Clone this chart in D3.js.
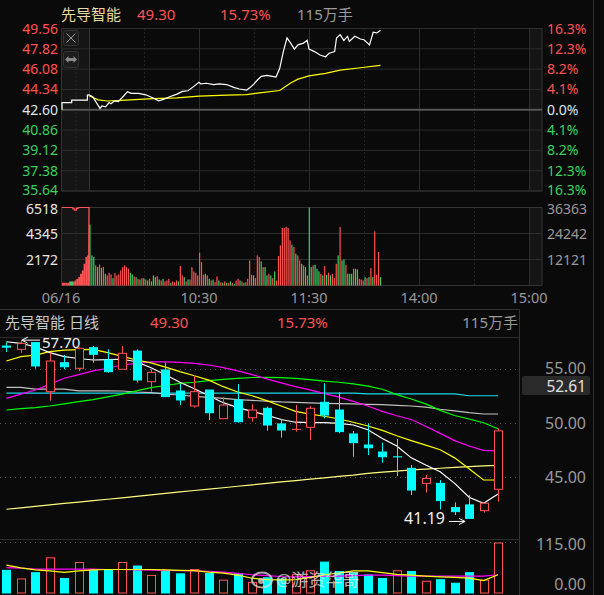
<!DOCTYPE html>
<html>
<head>
<meta charset="utf-8">
<script src="https://cdn.jsdelivr.net/npm/d3@7"></script>
<style>
  body { margin: 0; background: #0a0a0a; }
  svg { display: block; }
  text { font-family: "Noto Sans", "Noto Sans CJK SC", sans-serif; }
</style>
</head>
<body>
<svg id="chart"></svg>
<script>
/* 先导智能: intraday (top) + daily K-line (bottom) */

// ---------- header ----------
const stockName = "先导智能";
const lastPrice = "49.30", changePct = "15.73%", volText = "115万手";
const prevClose = 42.60;

// ---------- intraday axes ----------
const priceTicks = [49.56, 47.82, 46.08, 44.34, 42.60, 40.86, 39.12, 37.38, 35.64];
const pctTicks = ["16.3%", "12.3%", "8.2%", "4.1%", "0.0%", "4.1%", "8.2%", "12.3%", "16.3%"];
const volTicksL = [6518, 4345, 2172];
const volTicksR = [36363, 24242, 12121];
const timeLabels = ["10:30", "11:30", "14:00", "15:00"];
const timeLabelMin = [60, 120, 180, 240];
const dateLabel = "06/16";

// auction (9:15-9:30) price steps
const auctionMin = [-15, -15, -9.6, -9.6, -0.9, -0.9, 0];
const auctionPx = [42.60, 43.21, 43.21, 43.42, 43.42, 43.86, 43.88];
// auction volume per slot
const auctionVol = [224, 224, 224, 224, 336, 336, 336, 420, 559, 699, 979, 1259, 1818, 2377, 2517];
const auctionTop = [6518, 6518, 6518, 6518, 6518, 6518, 6400, 6293, 6450, 6518, 6518, 6518, 6518, 6518, 6518];
const auctionUp = "rrrrggrrrrrrrrr";

// intraday price (minutes from 9:30, trading minutes)
const tickMin = [0,2,6,7,9,11,12,14,16,19,21,23,27,31,35,38,41,44,48,51,54,57,60,61,64,68,71,75,79,82,86,88,90,92,94,97,100,102,104,106,108,110,112,114,117,119,120,123,126,129,131,134,135,137,139,141,142,145,148,150,153,155,157,159];
const tickPrice = [43.88,43.71,42.72,42.92,42.84,43.21,43.12,43.36,43.30,43.80,44.15,44.00,44.00,43.88,43.60,43.36,43.51,43.71,43.94,44.17,44.23,44.58,44.96,44.82,44.87,44.76,44.82,44.76,44.52,44.38,44.29,44.52,44.82,45.17,45.46,45.54,45.46,45.40,46.13,47.58,48.75,48.31,47.79,48.16,48.31,48.54,47.79,47.58,47.29,47.14,47.44,47.58,48.75,49.04,48.54,48.89,48.45,48.89,48.66,48.60,48.16,49.24,49.18,49.41];
const avgMin = [0,5,10,20,35,48,60,75,86,93,104,110,114,120,129,137,148,159];
const avgPrice = [43.80,43.45,43.35,43.42,43.55,43.62,43.76,43.85,43.90,44.05,44.25,44.90,45.22,45.50,45.72,46.00,46.20,46.40];

// intraday minute volume (lots) and direction
const minVol = [5091,2517,2377,1678,1538,1762,1482,1538,979,839,1063,923,615,1035,839,923,1259,1538,1678,1538,
  1399,1063,923,755,699,559,503,615,615,503,420,559,336,839,699,783,503,420,559,336,
  420,559,224,336,280,420,336,1622,839,699,336,503,503,1538,1175,1063,839,2741,1958,895,
  979,839,559,420,503,280,755,420,280,224,336,224,224,336,224,140,420,559,420,336,
  224,280,559,2098,895,839,615,2517,2377,2014,1538,1538,839,979,839,615,1175,420,2461,3356,
  4811,4811,4895,4811,3776,3412,3217,2657,2517,2098,1818,1678,1538,839,6518,1538,1678,1734,1399,1175,
  979,839,1622,895,1063,839,979,615,1818,2517,4895,2098,2182,1734,979,979,979,1399,1399,1343,
  559,503,420,699,615,699,1454,699,4531,895,2797,699];
const minUp = "gggrgrgrgrrrgrrrrrrr" + "rggrgrgrgrgrgggrgrgr" + "rrgrrrgrrgrgrrrrrrrr" +
              "grgrgrrgrgrgrgrgrrgr" + "grrrrgrrrgrggrgrgrrr" + "rrrrrgrgrrgrgrggrggg" +
              "rgrgrgrrrgrggrgggrgg" + "rrrgrgrgrrrg";

// ---------- daily K-line ----------
const dOpen  = [57.15,56.85,57.47,52.93,55.61,55.09,57.00,55.86,55.00,56.69,53.85,54.94,52.99,51.60,53.08,50.43,52.16,50.52,51.39,49.94,49.44,49.63,51.94,51.23,49.01,47.99,47.34,46.90,45.83,44.44,44.44,42.19,42.44,41.91,43.89];
const dHigh  = [57.50,57.70,57.50,56.54,56.32,57.03,57.16,56.85,57.16,56.85,55.00,55.61,53.64,54.47,53.08,52.41,53.64,51.76,51.54,50.37,51.69,51.60,53.70,52.87,49.29,50.00,48.21,48.55,46.14,45.21,44.75,42.68,43.36,42.60,49.53];
const dLow   = [56.60,56.54,55.06,52.10,55.00,54.84,55.61,54.69,55.00,53.79,52.93,52.47,51.69,51.45,50.31,50.43,50.06,50.15,49.32,48.67,49.22,48.45,50.46,49.07,46.91,47.06,46.35,45.12,43.36,43.58,42.03,41.51,41.19,41.73,42.74];
const dClose = [57.05,57.40,55.31,55.77,55.24,56.94,56.39,54.78,56.48,54.01,54.72,52.47,52.16,52.93,50.98,51.69,50.15,51.23,49.84,49.38,49.44,51.39,50.77,49.23,48.21,47.74,46.91,46.90,43.82,44.90,42.84,41.82,41.20,42.60,49.30];

const ma5   = [57.55,57.40,57.09,56.54,56.17,56.00,55.86,55.90,55.93,55.70,55.15,54.50,53.80,53.20,52.55,51.91,51.45,51.10,50.75,50.35,50.10,50.06,50.06,50.00,49.84,49.40,48.60,47.90,46.80,46.14,45.52,44.44,43.15,42.59,43.45];
const ma10  = [55.77,56.17,56.32,56.63,56.78,56.82,56.85,56.54,56.20,55.86,55.60,55.20,54.78,54.40,54.00,53.39,52.90,52.55,52.10,51.60,51.10,50.85,50.65,50.40,50.10,49.75,49.35,48.85,48.40,47.98,47.55,46.80,45.80,44.75,44.75];
const ma20  = [52.31,52.70,53.08,53.60,54.17,54.50,54.85,55.10,55.40,55.55,55.68,55.68,55.65,55.55,55.40,55.15,54.85,54.50,54.12,53.75,53.40,53.10,52.75,52.42,52.03,51.60,51.10,50.70,50.35,49.73,49.07,48.40,47.90,47.50,47.44];
const ma30  = [51.23,51.35,51.45,51.60,51.80,52.00,52.20,52.45,52.70,53.00,53.30,53.50,53.70,53.80,53.95,54.07,54.16,54.24,54.26,54.22,54.16,54.05,53.90,53.80,53.65,53.45,53.15,52.65,52.25,51.80,51.20,50.72,50.40,50.05,49.50];
const ma60  = [53.33,53.33,53.17,53.17,53.17,53.00,53.00,53.00,52.99,52.90,52.84,52.70,52.62,52.50,52.40,52.30,52.20,52.12,52.06,51.98,51.94,51.90,51.85,51.82,51.79,51.76,51.72,51.66,51.60,51.50,51.30,51.15,50.98,50.86,50.86];
const ma120 = [52.80,52.80,52.80,52.80,52.80,52.80,52.80,52.80,52.80,52.80,52.80,52.80,52.80,52.80,52.80,52.80,52.80,52.80,52.80,52.80,52.80,52.80,52.80,52.80,52.80,52.72,52.72,52.72,52.72,52.72,52.72,52.72,52.55,52.55,52.55];
const ma250 = [42.04,42.17,42.30,42.45,42.58,42.70,42.84,42.97,43.10,43.24,43.38,43.52,43.65,43.78,43.90,44.03,44.17,44.30,44.43,44.57,44.70,44.83,44.95,45.08,45.20,45.37,45.48,45.58,45.68,45.76,45.84,45.92,45.99,46.05,46.11];

const dVol = [52.1,32.3,46.7,80.9,33.2,70.1,52.1,53.0,70.1,62.0,40.4,49.4,44.0,53.9,44.9,29.6,44.9,24.3,35.0,32.3,43.1,51.2,71.0,49.4,45.8,41.3,33.2,51.2,49.4,27.0,30.5,22.5,46.7,29.6,115.0];
const volMa5  = [64,58,53,51,47.5,51,53,54,54,54,54,53,52,51.5,48,45.6,41,34,30.5,30,30.5,36,42,46,51,51,47,43,41,38.7,37,36,34,28.5,42];
const volMa10 = [58.4,57,55,55,55,55,55,54,54,53,52.5,52,51.5,51,50,48,45,42,40,38,37,38,38.5,39,40,41,41,40,39,38.7,38.7,38.7,38.7,38.7,42];

const dailyTicks = [55, 50, 45];
const volTicks = [115, 0];
const maCursor = "52.61";
const hiLabel = "57.70", loLabel = "41.19";

// ---------- drawing ----------
const width = 604, height = 595;
const red = "#ff5252", green = "#3bd160", cyan = "#00ffff", bg = "#0a0a0a",
      grid = "#2c2c2c", strip = "#151515", axisGray = "#9a9a9a";

const svg = d3.select("#chart")
    .attr("width", width).attr("height", height)
    .attr("viewBox", [0, 0, width, height]);

svg.append("rect").attr("width", width).attr("height", height).attr("fill", bg);

const tone = v => v > prevClose + 1e-6 ? red : v < prevClose - 1e-6 ? green : "#dde6ee";

// header row
const head = svg.append("g").style("font-size", "15px");
head.append("text").attr("x", 61).attr("y", 20).attr("fill", "#e8d9a0").text(stockName);
head.append("text").attr("x", 137).attr("y", 20).attr("fill", red).text(lastPrice);
head.append("text").attr("x", 220).attr("y", 20).attr("fill", red).text(changePct);
head.append("text").attr("x", 297).attr("y", 20).attr("fill", "#9a9a9a").text(volText);

// scales for intraday
const xT = d3.scaleLinear().domain([0, 240]).range([89, 529]);
const xA = d3.scaleLinear().domain([-15, 0]).range([62, 89]);
const yP = d3.scaleLinear().domain([35.64, 49.56]).range([191, 28.5]);
const yV = d3.scaleLinear().domain([0, 6518]).range([285.5, 207.5]);

function panel(y0, y1) {
    let g = svg.append("g");
    g.append("rect").attr("x", 62).attr("y", y0).attr("width", 27).attr("height", y1 - y0).attr("fill", strip);
    g.append("rect").attr("x", xT(240)).attr("y", y0).attr("width", 542 - xT(240)).attr("height", y1 - y0).attr("fill", strip);
    // vertical grid
    [0, 60, 120, 180, 240].forEach(m => g.append("line")
        .attr("x1", xT(m) + 0.5).attr("x2", xT(m) + 0.5).attr("y1", y0).attr("y2", y1)
        .attr("stroke", m === 0 ? "#333" : grid));
    [30, 90, 150, 210].forEach(m => g.append("line")
        .attr("x1", xT(m) + 0.5).attr("x2", xT(m) + 0.5).attr("y1", y0).attr("y2", y1)
        .attr("stroke", "#3a3a3a").attr("stroke-dasharray", "1,3"));
    g.append("line").attr("x1", xA(-7.5) + 0.5).attr("x2", xA(-7.5) + 0.5).attr("y1", y0).attr("y2", y1)
        .attr("stroke", "#3a3a3a").attr("stroke-dasharray", "1,3");
    g.append("rect").attr("x", 61.5).attr("y", y0).attr("width", 480.5).attr("height", y1 - y0)
        .attr("fill", "none").attr("stroke", "#333");
    return g;
}

// price panel
const pg = panel(28.5, 191);
priceTicks.forEach((p, i) => {
    let mid = i === 4;
    let ty = yP(p) - (i === priceTicks.length - 1 ? 1.5 : 0);
    pg.append("line").attr("x1", 62).attr("x2", 542)
        .attr("y1", yP(p)).attr("y2", yP(p))
        .attr("stroke", mid ? "#555" : grid).attr("stroke-width", mid ? 2 : 1);
    svg.append("text").attr("x", 58).attr("y", ty).attr("dy", "0.36em")
        .attr("text-anchor", "end").style("font-size", "14px").attr("fill", tone(p))
        .text(p.toFixed(2));
    svg.append("text").attr("x", 547).attr("y", ty).attr("dy", "0.36em")
        .style("font-size", "14px").attr("fill", tone(p)).text(pctTicks[i]);
});

// icons in the auction strip
const icon1 = svg.append("g");
icon1.append("rect").attr("x", 63.5).attr("y", 30.5).attr("width", 15).attr("height", 15).attr("rx", 2)
    .attr("fill", "#1c1c1c").attr("stroke", "#333");
icon1.append("path").attr("d", "M66.5,33.5 L75.5,42.5 M75.5,33.5 L66.5,42.5").attr("stroke", "#999").attr("fill", "none");
icon1.append("rect").attr("x", 63.5).attr("y", 51.5).attr("width", 15).attr("height", 16).attr("rx", 2)
    .attr("fill", "#1c1c1c").attr("stroke", "#333");
icon1.append("path").attr("d", "M65,59.5 L68.5,56 L68.5,58 L73.5,58 L73.5,56 L77,59.5 L73.5,63 L73.5,61 L68.5,61 L68.5,63 Z")
    .attr("fill", "#888");

// price lines
const line = d3.line();
svg.append("path")
    .attr("d", line(auctionMin.map((m, i) => [xA(m), yP(auctionPx[i])])))
    .attr("fill", "none").attr("stroke", "#fff").attr("stroke-width", 1.2);
svg.append("path")
    .attr("d", line(avgMin.map((m, i) => [xT(m), yP(avgPrice[i])])))
    .attr("fill", "none").attr("stroke", "#ffff00").attr("stroke-width", 1.2);
svg.append("path")
    .attr("d", line(tickMin.map((m, i) => [xT(m), yP(tickPrice[i])])))
    .attr("fill", "none").attr("stroke", "#fff").attr("stroke-width", 1.2);

// volume panel
const vg = panel(207.5, 285.5);
volTicksL.slice(1).forEach(v => vg.append("line").attr("x1", 62).attr("x2", 542)
    .attr("y1", yV(v)).attr("y2", yV(v)).attr("stroke", grid));
volTicksL.forEach((v, i) => {
    let ty = yV(v) + (i === 0 ? 1.5 : 0);
    svg.append("text").attr("x", 58).attr("y", ty).attr("dy", "0.36em")
        .attr("text-anchor", "end").style("font-size", "14px").attr("fill", "#e6e6e6").text(v);
    svg.append("text").attr("x", 547).attr("y", ty).attr("dy", "0.36em")
        .style("font-size", "14px").attr("fill", axisGray).text(volTicksR[i]);
});

const xS = d3.scaleLinear().domain([0, auctionVol.length]).range([62, 89]);
svg.append("g").selectAll("rect").data(auctionVol).join("rect")
    .attr("x", (d, i) => xS(i)).attr("width", xS(1) - xS(0) + 0.2)
    .attr("y", d => yV(d)).attr("height", d => yV(0) - yV(d))
    .attr("fill", (d, i) => auctionUp[i] === "r" ? red : green);
const topPts = [];
auctionTop.forEach((d, i) => { topPts.push([xS(i), yV(d)]); topPts.push([xS(i + 1), yV(d)]); });
svg.append("path").attr("d", line(topPts.concat([[xS(auctionTop.length) - 0.5, yV(0)]])))
    .attr("fill", "none").attr("stroke", red).attr("stroke-width", 1.2);

const xBar = d3.scaleLinear().domain([0, minVol.length - 1]).range([xT(0.5), xT(159)]);
svg.append("g").selectAll("rect").data(minVol).join("rect")
    .attr("x", (d, i) => xBar(i) - 0.6).attr("width", 1.2)
    .attr("y", d => yV(d)).attr("height", d => yV(0) - yV(d))
    .attr("fill", (d, i) => minUp[i] === "g" ? green : red);

// time labels
svg.append("text").attr("x", 61).attr("y", 298).attr("dy", "0.36em").attr("text-anchor", "middle")
    .style("font-size", "14.5px").attr("fill", axisGray).text(dateLabel);
timeLabels.forEach((t, i) => svg.append("text").attr("x", xT(timeLabelMin[i])).attr("y", 298)
    .attr("dy", "0.36em").attr("text-anchor", "middle").style("font-size", "14.5px")
    .attr("fill", axisGray).text(t));

// frame lines
svg.append("line").attr("x1", 0).attr("x2", 519.5).attr("y1", 309.5).attr("y2", 309.5).attr("stroke", "#333");
svg.append("line").attr("x1", 519.5).attr("x2", 519.5).attr("y1", 309.5).attr("y2", height).attr("stroke", "#333");
svg.append("line").attr("x1", 593.5).attr("x2", 593.5).attr("y1", 0).attr("y2", height).attr("stroke", "#333");
svg.append("line").attr("x1", 0).attr("x2", 519.5).attr("y1", 337.5).attr("y2", 337.5).attr("stroke", "#2c2c2c");
svg.append("line").attr("x1", 0).attr("x2", 519.5).attr("y1", 539.5).attr("y2", 539.5).attr("stroke", "#2c2c2c");

// daily header
const dh = svg.append("g").style("font-size", "15px");
dh.append("text").attr("x", 5).attr("y", 328).attr("fill", "#c8c8c8").text(stockName + " 日线");
dh.append("text").attr("x", 150).attr("y", 328).attr("fill", red).text(lastPrice);
dh.append("text").attr("x", 277).attr("y", 328).attr("fill", red).text(changePct);
dh.append("text").attr("x", 518).attr("y", 328).attr("text-anchor", "end").attr("fill", "#9a9a9a").text(volText);

// daily scales
const idx = d3.range(dClose.length);
const xD = d3.scalePoint().domain(idx).range([6.4, 498]);
const yD = d3.scaleLinear().domain([45, 55]).range([477.3, 369.3]);
const yDV = d3.scaleLinear().domain([0, 115]).range([593, 543]);
const bw = 9;

dailyTicks.forEach(p => {
    svg.append("line").attr("x1", 0).attr("x2", 519).attr("y1", Math.round(yD(p)) + 0.5).attr("y2", Math.round(yD(p)) + 0.5)
        .attr("stroke", "#555").attr("stroke-dasharray", "1,4");
    svg.append("text").attr("x", 586).attr("y", yD(p) - (p === 55 ? 1 : 0)).attr("dy", "0.36em").attr("text-anchor", "end")
        .style("font-size", "16px").attr("fill", axisGray).text(p.toFixed(2));
});
svg.append("line").attr("x1", 0).attr("x2", 519).attr("y1", 542.5).attr("y2", 542.5)
    .attr("stroke", "#555").attr("stroke-dasharray", "1,4");
volTicks.forEach(v => svg.append("text").attr("x", 586).attr("y", yDV(v) + (v === 0 ? -9 : 1)).attr("dy", "0.36em")
    .attr("text-anchor", "end").style("font-size", "16px").attr("fill", axisGray).text(v.toFixed(2)));

// cursor price box
svg.append("rect").attr("x", 522).attr("y", 376).attr("width", 68).attr("height", 19).attr("rx", 2).attr("fill", "#2a2a2a");
svg.append("text").attr("x", 586).attr("y", 386).attr("dy", "0.36em").attr("text-anchor", "end")
    .style("font-size", "15.5px").attr("fill", "#e0e0e0").text(maCursor);

// moving averages
const maLine = d3.line().x((d, i) => xD(i)).y(d => yD(d));
[[ma250, "#ffff80"], [ma120, "#18d8e8"], [ma60, "#c0c0c0"], [ma30, "#00ff00"],
 [ma20, "#ff00ff"], [ma10, "#ffff00"], [ma5, "#ffffff"]].forEach(([arr, c]) =>
    svg.append("path").attr("d", maLine(arr)).attr("fill", "none").attr("stroke", c).attr("stroke-width", 1.2));

// candles
const isUp = i => dClose[i] > dOpen[i] || (dClose[i] === dOpen[i] && (i === 0 || dClose[i] >= dClose[i - 1]));
const candle = svg.append("g").selectAll("g").data(idx).join("g");
candle.append("line")
    .attr("x1", i => Math.round(xD(i)) + 0.5).attr("x2", i => Math.round(xD(i)) + 0.5)
    .attr("y1", i => yD(dHigh[i])).attr("y2", i => yD(dLow[i]))
    .attr("stroke", i => isUp(i) ? red : cyan);
candle.append("rect")
    .attr("x", i => Math.round(xD(i)) - 4 + 0.5).attr("width", bw - 1)
    .attr("y", i => yD(Math.max(dOpen[i], dClose[i])))
    .attr("height", i => Math.max(0.1, yD(Math.min(dOpen[i], dClose[i])) - yD(Math.max(dOpen[i], dClose[i]))))
    .attr("fill", i => isUp(i) ? bg : cyan)
    .attr("stroke", i => isUp(i) ? red : cyan);

// high / low annotations
const ann = svg.append("g").attr("stroke", "#fff").attr("fill", "none");
ann.append("path").attr("d", `M${xD(1) + 1},${yD(57.70)} L40,${yD(57.70)} M${xD(1) + 7},${yD(57.70) - 3} L${xD(1) + 1},${yD(57.70)} L${xD(1) + 7},${yD(57.70) + 3}`);
svg.append("text").attr("x", 42).attr("y", yD(57.70) + 2.5).attr("dy", "0.36em").style("font-size", "15px")
    .attr("fill", "#f0f0f0").text(hiLabel);
const ly = yD(41.19) + 3;
ann.append("path").attr("d", `M449,${ly} L${xD(32) - 4},${ly} M${xD(32) - 10},${ly - 3} L${xD(32) - 4},${ly} L${xD(32) - 10},${ly + 3}`);
svg.append("text").attr("x", 445).attr("y", ly - 3).attr("dy", "0.36em").attr("text-anchor", "end")
    .style("font-size", "16px").attr("fill", "#f0f0f0").text(loLabel);

// daily volume
svg.append("g").selectAll("rect").data(dVol).join("rect")
    .attr("x", (d, i) => Math.round(xD(i)) - 4 + 0.5).attr("width", bw - 1)
    .attr("y", d => yDV(d)).attr("height", d => yDV(0) - yDV(d))
    .attr("fill", (d, i) => dClose[i] >= dOpen[i] ? bg : cyan)
    .attr("stroke", (d, i) => dClose[i] >= dOpen[i] ? red : cyan);

const vLine = d3.line().x((d, i) => xD(i)).y(d => yDV(d));
svg.append("path").attr("d", vLine(volMa10)).attr("fill", "none").attr("stroke", "#ff00ff").attr("stroke-width", 1.2);
svg.append("path").attr("d", vLine(volMa5)).attr("fill", "none").attr("stroke", "#ffff00").attr("stroke-width", 1.2);

// watermark
const wm = svg.append("g").attr("opacity", 0.75);
wm.append("ellipse").attr("cx", 262).attr("cy", 580).attr("rx", 10).attr("ry", 7.5)
    .attr("fill", "none").attr("stroke", "#ddd").attr("stroke-width", 2);
wm.append("circle").attr("cx", 261).attr("cy", 581).attr("r", 3).attr("fill", "#ddd");
wm.append("text").attr("x", 276).attr("y", 580).attr("dy", "0.36em").style("font-size", "17px")
    .attr("fill", "#e6e6e6").text("@游资华哥");
</script>
</body>
</html>
